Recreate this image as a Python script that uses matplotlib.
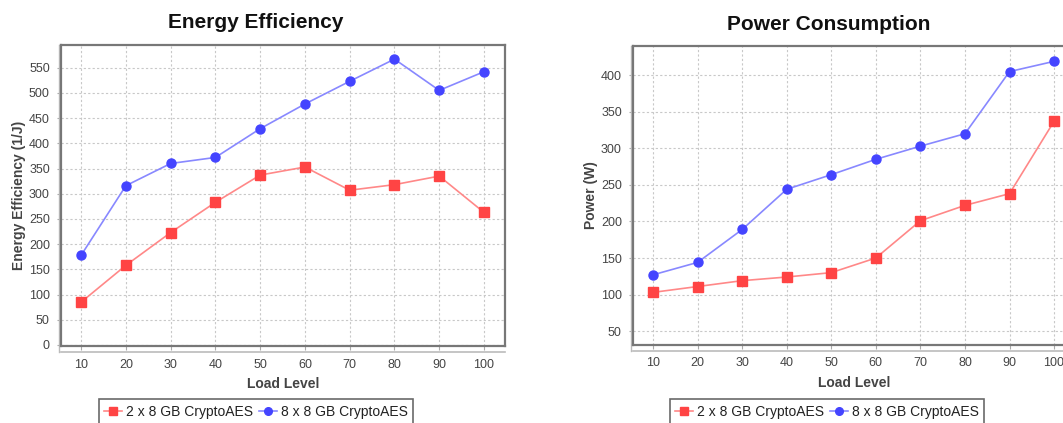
import matplotlib
matplotlib.use("Agg")
import matplotlib.pyplot as plt
from matplotlib.lines import Line2D

plt.rcParams['font.family'] = ['Liberation Sans', 'DejaVu Sans']

# data
load = [10, 20, 30, 40, 50, 60, 70, 80, 90, 100]
eff_2x8 = [85, 158, 223, 283, 337, 353, 307, 318, 335, 263]
eff_8x8 = [178, 316, 360, 372, 429, 478, 523, 567, 505, 542]
pow_2x8 = [103, 111, 119, 124, 130, 150, 201, 222, 238, 337]
pow_8x8 = [127, 144, 189, 244, 264, 285, 303, 320, 405, 419]
series_names = ['2 x 8 GB CryptoAES', '8 x 8 GB CryptoAES']

RED_M, RED_L = '#ff4444', '#ff8888'
BLUE_M, BLUE_L = '#4444ff', '#8888ff'
TXT = '#444444'

fig = plt.figure(figsize=(10.63, 4.23), dpi=100)
W, H = 1063, 423


def make_ax(x0, x1, ytop, ybot):
    return fig.add_axes([x0 / W, 1 - ybot / H, (x1 - x0) / W, (ybot - ytop) / H])


def style(ax, ylim, yticks, ylabel):
    ax.set_xlim(5.5, 104.7)
    ax.set_ylim(*ylim)
    ax.set_xticks(load)
    ax.set_yticks(yticks)
    ax.grid(True, color='#c8c8c8', linestyle=(0, (2, 2)), linewidth=0.8)
    ax.set_axisbelow(True)
    for s in ax.spines.values():
        s.set_color('#777777')
        s.set_linewidth(1.6)
    ax.tick_params(axis='both', colors='#aaaaaa', labelcolor=TXT, labelsize=9,
                   length=3, width=0.8)
    ax.tick_params(axis='x', pad=6)
    ax.tick_params(axis='y', pad=5)
    ax.set_xlabel('Load Level', fontsize=10, fontweight='bold', color=TXT, labelpad=5)
    ax.set_ylabel(ylabel, fontsize=10, fontweight='bold', color=TXT, labelpad=2)
    # offset axis lines like the original chart
    ax.add_line(Line2D([0, 1], [-0.02, -0.02], transform=ax.transAxes,
                       color='#bbbbbb', linewidth=1.2, clip_on=False))
    ax.add_line(Line2D([-0.004, -0.004], [-0.02, 1], transform=ax.transAxes,
                       color='#bbbbbb', linewidth=1.0, clip_on=False))


def draw(ax, a, b):
    ax.plot(load, a, color=RED_L, linewidth=1.2, marker='s', markersize=6.5,
            markerfacecolor=RED_M, markeredgecolor=RED_M, label=series_names[0])
    ax.plot(load, b, color=BLUE_L, linewidth=1.2, marker='o', markersize=6.5,
            markerfacecolor=BLUE_M, markeredgecolor=BLUE_M, label=series_names[1])


ax1 = make_ax(61, 505, 45, 346)
draw(ax1, eff_2x8, eff_8x8)
style(ax1, (-2, 595), range(0, 551, 50), 'Energy Efficiency (1/J)')

ax2 = make_ax(633, 1075, 46, 345)
draw(ax2, pow_2x8, pow_8x8)
style(ax2, (31, 440), range(50, 401, 50), 'Power (W)')

fig.text(256 / W, 1 - 23 / H, 'Energy Efficiency', ha='center', va='center',
         fontsize=15, fontweight='bold', color='#111111')
fig.text(829 / W, 1 - 24 / H, 'Power Consumption', ha='center', va='center',
         fontsize=15, fontweight='bold', color='#111111')

for ax, cx in ((ax1, 256), (ax2, 827)):
    leg = fig.legend(*ax.get_legend_handles_labels(), loc='upper center',
                     bbox_to_anchor=(cx / W, 1 - 399 / H), ncol=2, fontsize=10,
                     frameon=True, fancybox=False, handlelength=1.3,
                     handletextpad=0.3, columnspacing=0.4, borderpad=0.4,
                     borderaxespad=0)
    leg.get_frame().set_edgecolor('#444444')
    leg.get_frame().set_linewidth(1.2)
    for t in leg.get_texts():
        t.set_color('#222222')
    for h in leg.legend_handles:
        h.set_markersize(5.5)

fig.savefig('out.png', dpi=100)
